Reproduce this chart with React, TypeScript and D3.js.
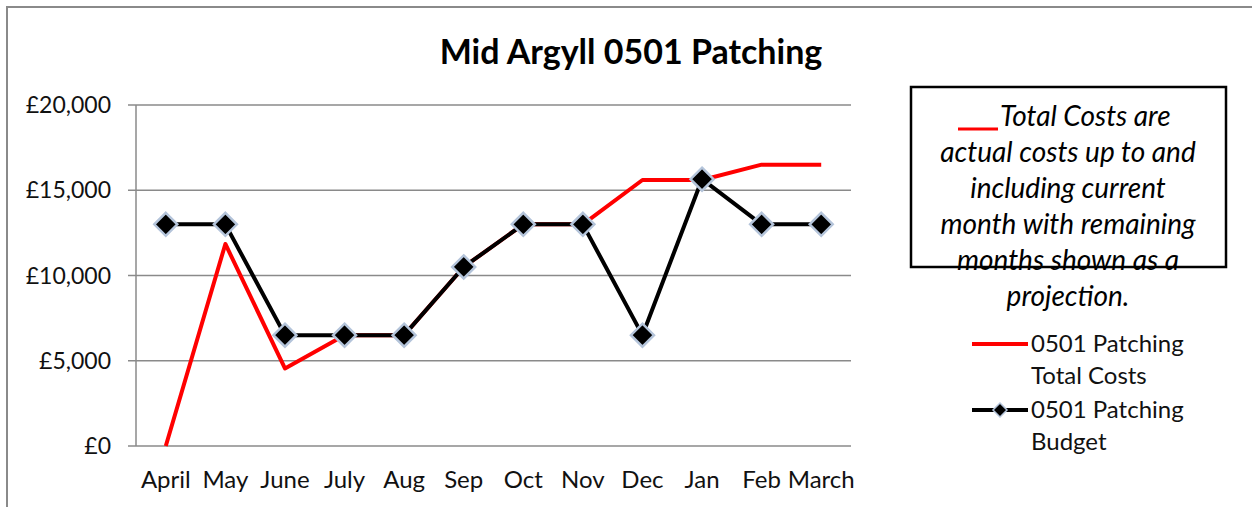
import React, { useEffect, useRef } from "react";
import * as d3 from "d3";

const months = ["April", "May", "June", "July", "Aug", "Sep", "Oct", "Nov", "Dec", "Jan", "Feb", "March"];
const totalCosts = [0, 11850, 4550, 6500, 6500, 10500, 13000, 13000, 15600, 15600, 16500, 16500];
const budget = [13000, 13000, 6500, 6500, 6500, 10500, 13000, 13000, 6500, 15650, 13000, 13000];
const yTicks = [0, 5000, 10000, 15000, 20000];
const noteLines = [
  "Total Costs are",
  "actual costs up to and",
  "including current",
  "month with remaining",
  "months shown as a",
  "projection.",
];
const legendItems = [
  { lines: ["0501 Patching", "Total Costs"], color: "#ff0000", marker: false },
  { lines: ["0501 Patching", "Budget"], color: "#000000", marker: true },
];

const W = 1252;
const H = 507;
const font = "Lato, 'Open Sans', sans-serif";

const App = () => {
  const svgRef = useRef<SVGSVGElement>(null);

  useEffect(() => {
    const svg = d3.select(svgRef.current);
    svg.selectAll("*").remove();

    const plot = { left: 136, right: 851, top: 105, bottom: 446 };

    // outer chart border
    svg.append("rect")
      .attr("x", 7).attr("y", 7)
      .attr("width", W + 10).attr("height", H + 10)
      .attr("fill", "#fff")
      .attr("stroke", "#8a8a8a")
      .attr("stroke-width", 2);

    const x = d3.scaleBand().domain(months).range([plot.left, plot.right]);
    const y = d3.scaleLinear().domain([0, 20000]).range([plot.bottom, plot.top]);
    const cx = (m: string) => (x(m) as number) + x.bandwidth() / 2;

    // gridlines
    svg.append("g")
      .selectAll("line")
      .data(yTicks)
      .join("line")
      .attr("x1", plot.left - 8)
      .attr("x2", plot.right)
      .attr("y1", (d) => y(d))
      .attr("y2", (d) => y(d))
      .attr("stroke", "#8a8a8a")
      .attr("stroke-width", 1.5);

    // y axis line
    svg.append("line")
      .attr("x1", plot.left).attr("x2", plot.left)
      .attr("y1", plot.top).attr("y2", plot.bottom)
      .attr("stroke", "#8a8a8a")
      .attr("stroke-width", 1.5);

    // y labels
    svg.append("g")
      .selectAll("text")
      .data(yTicks)
      .join("text")
      .attr("x", 111)
      .attr("y", (d) => y(d))
      .attr("dy", "0.35em")
      .attr("text-anchor", "end")
      .attr("font-family", font)
      .attr("font-size", 23)
      .attr("fill", "#111")
      .text((d) => "£" + d3.format(",")(d));

    // x labels
    svg.append("g")
      .selectAll("text")
      .data(months)
      .join("text")
      .attr("x", (d) => cx(d))
      .attr("y", 480)
      .attr("dy", "0.35em")
      .attr("text-anchor", "middle")
      .attr("font-family", font)
      .attr("font-size", 24)
      .attr("fill", "#111")
      .text((d) => d);

    const line = d3.line<number>()
      .x((_, i) => cx(months[i]))
      .y((d) => y(d));

    svg.append("path")
      .attr("d", line(totalCosts))
      .attr("fill", "none")
      .attr("stroke", "#ff0000")
      .attr("stroke-width", 4)
      .attr("stroke-linejoin", "round");

    svg.append("path")
      .attr("d", line(budget))
      .attr("fill", "none")
      .attr("stroke", "#000")
      .attr("stroke-width", 4)
      .attr("stroke-linejoin", "round");

    const diamond = (s: number) => `M0,${-s}L${s},0L0,${s}L${-s},0Z`;

    svg.append("g")
      .selectAll("path")
      .data(budget)
      .join("path")
      .attr("transform", (d, i) => `translate(${cx(months[i])},${y(d)})`)
      .attr("d", diamond(11.5))
      .attr("fill", "#000")
      .attr("stroke", "#b4c4da")
      .attr("stroke-width", 2.5);

    // title
    svg.append("text")
      .attr("x", 631).attr("y", 52)
      .attr("dy", "0.35em")
      .attr("text-anchor", "middle")
      .attr("font-family", font)
      .attr("font-weight", "bold")
      .attr("font-size", 34)
      .attr("fill", "#000")
      .text("Mid Argyll 0501 Patching");

    // note box
    const note = svg.append("g");
    note.selectAll("text")
      .data(noteLines)
      .join("text")
      .attr("x", (d, i) => (i === 0 ? 1000 : 1068))
      .attr("y", (d, i) => 116 + i * 36)
      .attr("dy", "0.35em")
      .attr("text-anchor", (d, i) => (i === 0 ? "start" : "middle"))
      .attr("font-family", font)
      .attr("font-style", "italic")
      .attr("font-size", 28)
      .attr("fill", "#000")
      .text((d) => d);
    note.append("line")
      .attr("x1", 958).attr("x2", 998)
      .attr("y1", 129).attr("y2", 129)
      .attr("stroke", "#ff0000")
      .attr("stroke-width", 3);
    note.append("rect")
      .attr("x", 911).attr("y", 87)
      .attr("width", 315).attr("height", 180)
      .attr("fill", "none")
      .attr("stroke", "#000")
      .attr("stroke-width", 2.5);

    // legend
    const lg = svg.append("g")
      .selectAll("g")
      .data(legendItems)
      .join("g")
      .attr("transform", (d, i) => `translate(0,${344 + i * 66})`);
    lg.append("line")
      .attr("x1", 972).attr("x2", 1028)
      .attr("y1", 0).attr("y2", 0)
      .attr("stroke", (d) => d.color)
      .attr("stroke-width", 4);
    lg.filter((d) => d.marker)
      .append("path")
      .attr("transform", "translate(1000,0)")
      .attr("d", diamond(7))
      .attr("fill", "#000")
      .attr("stroke", "#b4c4da")
      .attr("stroke-width", 1.5);
    lg.selectAll("text")
      .data((d) => d.lines)
      .join("text")
      .attr("x", 1031)
      .attr("y", (d, i) => i * 32)
      .attr("dy", "0.35em")
      .attr("font-family", font)
      .attr("font-size", 24)
      .attr("fill", "#111")
      .text((d) => d);
  }, []);

  return (
    <svg
      ref={svgRef}
      width={W}
      height={H}
      style={{ position: "fixed", left: 0, top: 0, background: "#fff" }}
    />
  );
};

export default App;
